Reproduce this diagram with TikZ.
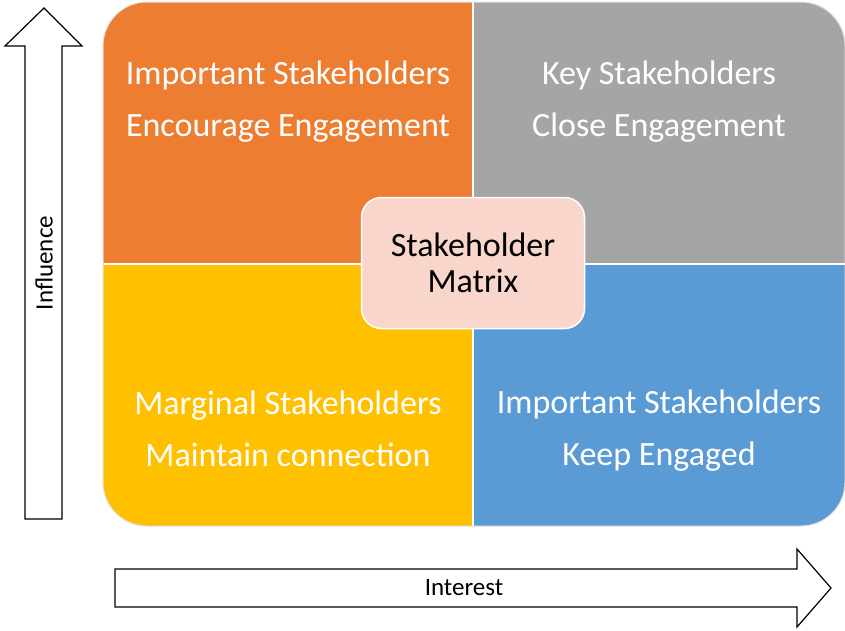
\documentclass[tikz,border=0pt]{standalone}
\usepackage{fontspec}
\setmainfont{Carlito}
\definecolor{orangeq}{HTML}{ED7D31}
\definecolor{greyq}{HTML}{A5A5A5}
\definecolor{yellowq}{HTML}{FFC000}
\definecolor{blueq}{HTML}{5B9BD5}
\definecolor{pinkq}{HTML}{F8D6CB}
\begin{document}
\begin{tikzpicture}[x = 1pt, y = -1pt,
        quadtext/.style={text=white, align=center, font=\fontsize{34}{52}\selectfont},
        axisarrow/.style={draw=black, line width=1.2pt, fill=white, line join=miter},
        axislabel/.style={font=\fontsize{25}{30}\selectfont}
]
    \useasboundingbox (0,0) rectangle (845,630);
    % quadrants
    \begin{scope}
        \clip[rounded corners=44] (103,2) rectangle (845,526);
        \fill[orangeq] (103,2) rectangle (473,264);
        \fill[greyq] (473,2) rectangle (845,264);
        \fill[yellowq] (103,264) rectangle (473,526);
        \fill[blueq] (473,264) rectangle (845,526);
        \draw[white, line width=1.2pt] (473,2) -- (473,526);
        \draw[white, line width=1.2pt] (103,264) -- (845,264);
    \end{scope}
    \draw[black!12, line width=1pt, rounded corners=44] (103,2) rectangle (845,526);
    \node[quadtext] (tl) at (288,102) {Important Stakeholders\\Encourage Engagement};
    \node[quadtext] (tr) at (659,102) {Key Stakeholders\\Close Engagement};
    \node[quadtext] (bl) at (288,429) {Marginal Stakeholders\\Maintain connection};
    \node[quadtext] (br) at (659,431) {Important Stakeholders\\Keep Engaged};
    \node[draw=white, line width=1.5pt, fill=pinkq, rounded corners=20,
          minimum width=223pt, minimum height=131pt, align=center,
          font=\fontsize{34}{36}\selectfont] (matrix) at (473,263) {Stakeholder\\Matrix};
    % axes
    \draw[axisarrow] (25,519) -- (25,46) -- (5,46) -- (44,8) -- (82,46) -- (62,46) -- (62,519) -- cycle;
    \draw[axisarrow] (115,569) -- (797,569) -- (797,549) -- (831,588) -- (797,627) -- (797,607) -- (115,607) -- cycle;
    \node[axislabel, rotate=90] (influence) at (44,263) {Influence};
    \node[axislabel] (interest) at (464,588) {Interest};
\end{tikzpicture}
\end{document}
